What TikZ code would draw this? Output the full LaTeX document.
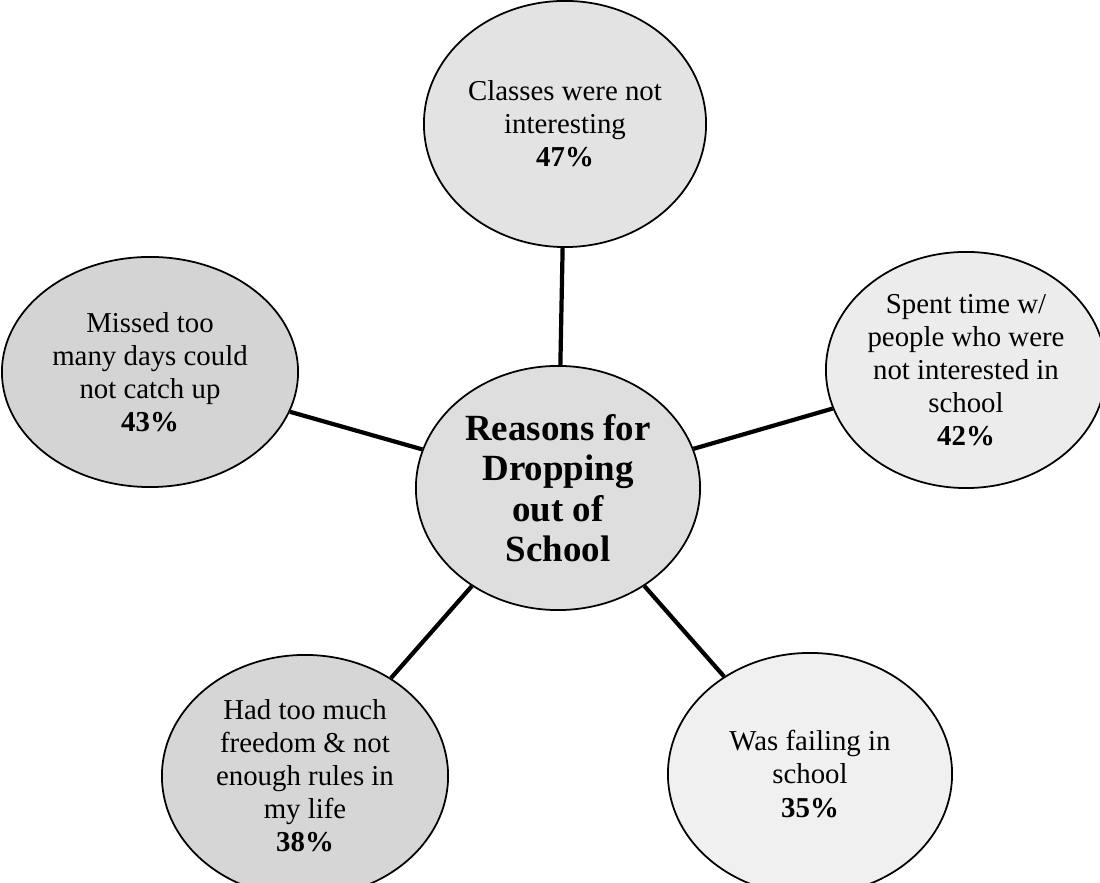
\documentclass[tikz,border=0pt]{standalone}
\usepackage{fontspec}
\setmainfont{Liberation Serif}
\usetikzlibrary{shapes.geometric}
\tikzset{
	blase/.style={ellipse, draw, line width=0.5pt, fill=#1, inner sep=0pt, align=center,
		font=\fontsize{8.2}{9.4}\selectfont},
	blase/.default=gray!25,
	linie/.style={line width=1.2pt}
}
\begin{document}
\begin{tikzpicture}[x=0.01cm, y=-0.01cm]
\useasboundingbox (0,0) rectangle (1100,883);
% Mitte
\node[blase=gray!26, minimum width=2.84cm, minimum height=2.44cm,
	font=\fontsize{10.5}{11.5}\selectfont\bfseries] (mitte) at (558,488)
	{Reasons for\\Dropping\\out of\\School};
% Gruende
\node[blase=gray!22, minimum width=2.82cm, minimum height=2.46cm] (klassen) at (565,124)
	{Classes were not\\interesting\\\textbf{47\%}};
\node[blase=gray!34, minimum width=2.96cm, minimum height=2.30cm] (gefehlt) at (150,372)
	{Missed too\\many days could\\not catch up\\\textbf{43\%}};
\node[blase=gray!15, minimum width=2.80cm, minimum height=2.36cm] (leute) at (966,370)
	{Spent time w/\\people who were\\not interested in\\school\\\textbf{42\%}};
\node[blase=gray!32, minimum width=2.86cm, minimum height=2.42cm] (freiheit) at (305,776)
	{Had too much\\freedom \& not\\enough rules in\\my life\\\textbf{38\%}};
\node[blase=gray!12, minimum width=2.84cm, minimum height=2.42cm] (versagt) at (810,774)
	{Was failing in\\school\\\textbf{35\%}};
% Verbindungen
\draw[linie] (mitte) -- (klassen);
\draw[linie] (mitte) -- (gefehlt);
\draw[linie] (mitte) -- (leute);
\draw[linie] (mitte) -- (freiheit);
\draw[linie] (mitte) -- (versagt);
\end{tikzpicture}
\end{document}
